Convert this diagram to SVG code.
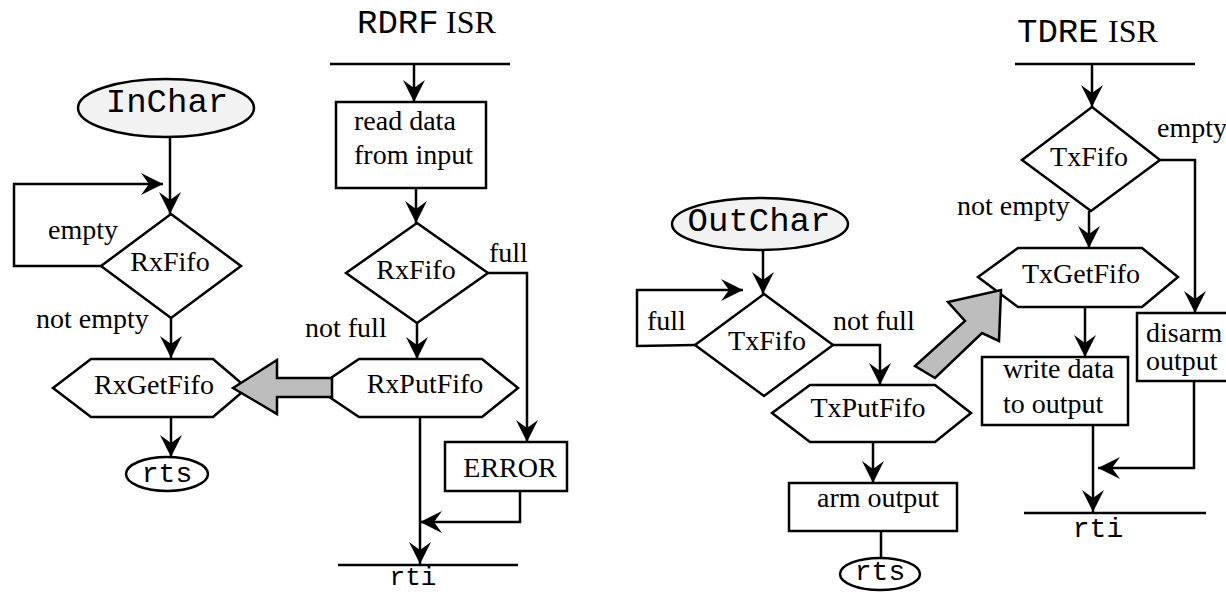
<svg xmlns="http://www.w3.org/2000/svg" width="1226" height="592" viewBox="0 0 1226 592">
<defs>
<marker id="ah" markerUnits="userSpaceOnUse" markerWidth="24" markerHeight="24" refX="22" refY="11" orient="auto">
<path d="M0,0 L22,11 L0,22 L8,11 Z" fill="#000"/>
</marker>
<style>
.s{fill:#fff;stroke:#000;stroke-width:2.5}
.g{fill:#f2f2f2;stroke:#000;stroke-width:2.5}
.big{fill:#bdbdbd;stroke:#000;stroke-width:2.5;stroke-linejoin:miter}
.c{fill:none;stroke:#000;stroke-width:2.5}
.a{marker-end:url(#ah)}
.t{font-family:"Liberation Serif","Times New Roman",serif;font-size:28px;fill:#000}
.ti{font-family:"Liberation Serif","Times New Roman",serif;font-size:32px;fill:#000}
.m{font-family:"Liberation Mono","Courier New",monospace;fill:#000}
.mid{text-anchor:middle}
</style>
</defs>

<g id="connectors">
<line class="c a" x1="170" y1="137" x2="170" y2="214"/>
<polyline class="c a" points="101,266 14,266 14,184 163,184"/>
<line class="c a" x1="171" y1="318" x2="171" y2="358"/>
<line class="c a" x1="171" y1="417" x2="171" y2="457"/>
<line class="c" x1="330" y1="64" x2="510" y2="64"/>
<line class="c a" x1="414" y1="64" x2="414" y2="102"/>
<line class="c a" x1="416" y1="188" x2="416" y2="223"/>
<polyline class="c a" points="488,273 527,273 527,442"/>
<line class="c a" x1="417" y1="323" x2="417" y2="359"/>
<line class="c a" x1="420" y1="417" x2="420" y2="564"/>
<line class="c" x1="338" y1="565" x2="518" y2="565"/>
<polyline class="c a" points="520,491 520,522 420,522"/>
<line class="c a" x1="763" y1="250" x2="763" y2="294"/>
<polyline class="c a" points="695,345 637,346 637,290 743,290"/>
<polyline class="c a" points="833,345 880,345 880,385"/>
<line class="c a" x1="873" y1="442" x2="873" y2="483"/>
<line class="c" x1="881" y1="531" x2="881" y2="558"/>
<line class="c" x1="1015" y1="64" x2="1195" y2="64"/>
<line class="c a" x1="1092" y1="64" x2="1092" y2="107"/>
<polyline class="c a" points="1160,160 1195,160 1195,313"/>
<line class="c a" x1="1089" y1="211" x2="1089" y2="248"/>
<line class="c a" x1="1085" y1="307" x2="1085" y2="357"/>
<line class="c a" x1="1093" y1="425" x2="1093" y2="512"/>
<line class="c" x1="1024" y1="513" x2="1206" y2="513"/>
<polyline class="c a" points="1194,381 1194,468 1098,468"/>
</g>

<g id="labels">
<text class="t" x="48" y="239">empty</text>
<text class="t" x="36" y="328">not empty</text>
<text class="t" x="489" y="262">full</text>
<text class="t" x="305" y="337">not full</text>
<text class="t" x="647" y="330">full</text>
<text class="t" x="833" y="330">not full</text>
<text class="t" x="1157" y="137">empty</text>
<text class="t" x="957" y="215">not empty</text>
</g>

<g id="inchar">
<ellipse class="g" cx="166" cy="108" rx="88" ry="29"/>
<text class="m mid" x="167" y="112" font-size="34">InChar</text>
</g>
<g id="rxfifo-in">
<polygon class="s" points="171,214 241,266 171,318 101,266"/>
<text class="t mid" x="170" y="271">RxFifo</text>
</g>
<g id="rxgetfifo">
<polygon class="s" points="53,388 91,359 213,359 247,388 213,417 91,417"/>
<text class="t mid" x="154" y="394">RxGetFifo</text>
</g>
<g id="rts1">
<ellipse class="s" cx="167" cy="474" rx="41" ry="17"/>
<text class="m mid" x="167" y="482" font-size="28">rts</text>
</g>

<g id="rdrf-isr">
<text class="m" x="357" y="33" font-size="34">RDRF</text>
<text class="ti" x="446" y="33">ISR</text>
</g>
<g id="readdata">
<rect class="s" x="336" y="102" width="150" height="86"/>
<text class="t" x="354" y="130">read data</text>
<text class="t" x="354" y="164">from input</text>
</g>
<g id="rxfifo-isr">
<polygon class="s" points="417,223 488,273 417,323 346,273"/>
<text class="t mid" x="416" y="279">RxFifo</text>
</g>
<g id="rxputfifo">
<polygon class="s" points="316,388 359,359 482,359 518,388 482,417 359,417"/>
<text class="t mid" x="425" y="393">RxPutFifo</text>
</g>
<g id="error">
<rect class="s" x="445" y="442" width="122" height="49"/>
<text class="t mid" x="510" y="477">ERROR</text>
</g>
<g id="rti1">
<text class="m mid" x="413" y="585" font-size="26">rti</text>
</g>
<g id="bigarrow1">
<polygon class="big" points="233,388 277,360 277,378 332,378 332,397 277,397 277,414"/>
</g>

<g id="outchar">
<ellipse class="g" cx="760" cy="224" rx="88" ry="26"/>
<text class="m mid" x="759" y="231" font-size="34">OutChar</text>
</g>
<g id="txfifo-out">
<polygon class="s" points="764,294 833,345 764,396 695,345"/>
<text class="t mid" x="767" y="350">TxFifo</text>
</g>
<g id="txputfifo">
<polygon class="s" points="772,413 810,385 935,385 971,413 935,442 810,442"/>
<text class="t mid" x="868" y="417">TxPutFifo</text>
</g>
<g id="armoutput">
<rect class="s" x="789" y="483" width="168" height="48"/>
<text class="t" x="817" y="507">arm output</text>
</g>
<g id="rts2">
<ellipse class="s" cx="880" cy="574" rx="40" ry="16"/>
<text class="m mid" x="880" y="580" font-size="28">rts</text>
</g>

<g id="tdre-isr">
<text class="m" x="1017" y="42" font-size="34">TDRE</text>
<text class="ti" x="1108" y="42">ISR</text>
</g>
<g id="txfifo-isr">
<polygon class="s" points="1092,107 1160,160 1091,211 1022,160"/>
<text class="t mid" x="1089" y="166">TxFifo</text>
</g>
<g id="txgetfifo">
<polygon class="s" points="978,277 1018,248 1142,248 1178,277 1142,307 1018,307"/>
<text class="t mid" x="1081" y="283">TxGetFifo</text>
</g>
<g id="writedata">
<rect class="s" x="982" y="357" width="146" height="68"/>
<text class="t" x="1003" y="378">write data</text>
<text class="t" x="1003" y="413">to output</text>
</g>
<g id="disarm">
<rect class="s" x="1137" y="313" width="100" height="68"/>
<text class="t" x="1146" y="342">disarm</text>
<text class="t" x="1146" y="370">output</text>
</g>
<g id="rti2">
<text class="m mid" x="1098" y="537" font-size="28">rti</text>
</g>
<g id="bigarrow2">
<polygon class="big" points="1001,290 999,341 982,333 935,378 915,366 965,321 948,302"/>
</g>
</svg>
